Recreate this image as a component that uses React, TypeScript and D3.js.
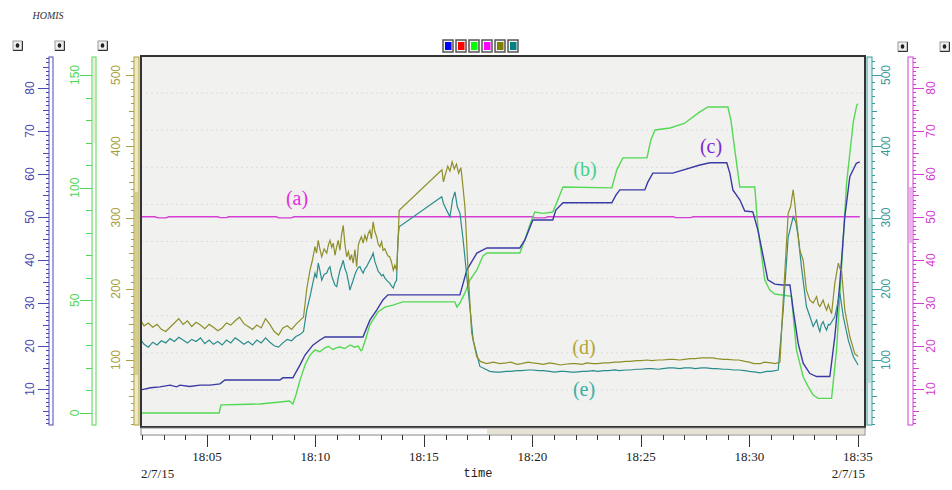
import React from 'react';
import * as d3 from 'd3';

const W = 952;
const H = 490;
const M = { left: 141, right: 865, top: 56, bottom: 427 };
const AXIS_TOP = 57;
const AXIS_BOTTOM = 425;

// time is minutes after 18:00 on 2/7/15
const T0 = 1.96;
const T1 = 35.33;

const legendColors = ['#0000ff', '#ff0000', '#00ff00', '#ff00ff', '#808000', '#008080'];

const blueLabels = [10, 20, 30, 40, 50, 60, 70, 80];
const greenLabels = [0, 50, 100, 150];
const oliveLabels = [100, 200, 300, 400, 500];
const tealLabels = [100, 200, 300, 400, 500];
const pinkLabels = [10, 20, 30, 40, 50, 60, 70, 80];

type Pt = [number, number];

// (a) magenta, right pink axis
const seriesA: Pt[] = [
  [1.96, 50.05], [2.6, 50.05], [2.75, 49.8], [3.1, 49.8], [3.25, 50.05], [5.5, 50.05], [5.6, 49.85],
  [5.9, 49.85], [6.0, 50.05], [8.2, 50.05], [8.3, 49.8], [8.9, 49.8], [9.0, 50.05], [20.0, 50.05],
  [20.1, 49.8], [20.6, 49.8], [20.7, 50.05], [26.5, 50.05], [26.6, 49.85], [27.3, 49.85], [27.4, 50.05],
  [35.09, 50.05],
];

// (b) green, left green axis
const seriesB: Pt[] = [
  [1.96, 0], [5.56, 0], [5.65, 3.6], [6.5, 3.8], [7.44, 4.0], [8.36, 4.9], [8.8, 5.3], [8.96, 4.0],
  [9.1, 8.0], [9.29, 14.6], [9.52, 21.3], [9.75, 25.7], [9.98, 28], [10.2, 27.2], [10.44, 28.9],
  [10.6, 29.6], [10.8, 28.2], [11.0, 29.0], [11.13, 29.3], [11.35, 28.6], [11.6, 30.2], [11.8, 29.2],
  [11.97, 29.7], [12.1, 27.6], [12.15, 28], [12.3, 32.4], [12.51, 39.1], [12.88, 44.8], [13.2, 47],
  [13.57, 47.9], [14.03, 49.3], [16.43, 49.3], [16.52, 47], [16.66, 48.8], [16.89, 53.3], [17.12, 59],
  [17.44, 63.5], [17.72, 69.7], [17.9, 71], [19.42, 71], [19.65, 76.8], [19.88, 83.4], [20.11, 89.2],
  [20.5, 88.6], [20.94, 89.2], [21.17, 94.5], [21.41, 100.3], [23.66, 99.9], [23.89, 107.9],
  [24.17, 113.2], [25.28, 113.2], [25.46, 121.2], [25.65, 125.6], [26.34, 126.5], [27.0, 128.5],
  [27.72, 133.6], [28.09, 135.8], [29.01, 135.8], [29.15, 130], [29.33, 116.7], [29.56, 100.3],
  [30.25, 100.3], [30.39, 82.6], [30.71, 59], [30.94, 54.6], [31.17, 52.8], [31.94, 51.8], [32.17, 28],
  [32.48, 16.1], [32.71, 11.7], [32.94, 8], [33.17, 6.5], [33.79, 6.5], [34.02, 28], [34.25, 64.8],
  [34.48, 101.9], [34.79, 129.2], [34.95, 136.6], [35.01, 137.3],
];

// (c) blue, left blue axis
const seriesC: Pt[] = [
  [1.96, 9.8], [2.4, 10.3], [2.83, 10.5], [3.3, 10.9], [3.6, 10.5], [3.76, 10.9], [4.2, 10.6],
  [4.68, 10.9], [5.14, 10.9], [5.6, 11.2], [5.83, 12.1], [8.36, 12.1], [8.5, 12.6], [8.96, 12.6],
  [9.29, 15.6], [9.52, 17.9], [9.88, 20.2], [10.21, 21.4], [10.44, 22.1], [12.19, 22.1], [12.51, 26.0],
  [12.83, 28.4], [13.11, 30.7], [13.34, 31.9], [16.66, 31.9], [16.98, 37.7], [17.44, 41.6], [17.9, 42.8],
  [19.42, 42.8], [19.65, 44.6], [20.02, 49.3], [20.94, 49.3], [21.08, 51.6], [21.41, 53.3], [23.66, 53.3],
  [23.85, 55.1], [24.03, 56.3], [25.18, 56.3], [25.32, 58.1], [25.55, 60.2], [26.47, 60.2], [27.72, 62.1],
  [28.18, 62.6], [28.96, 62.6], [29.1, 60.2], [29.24, 56.3], [29.56, 54.0], [29.79, 51.4], [30.16, 51.2],
  [30.39, 47.0], [30.58, 42.3], [30.85, 35.4], [31.17, 34.4], [31.54, 34.2], [31.87, 34.2], [32.02, 28.4],
  [32.25, 20.6], [32.48, 16.0], [32.79, 13.6], [33.1, 12.9], [33.71, 12.9], [33.94, 22.2], [34.17, 34.6],
  [34.4, 50.1], [34.63, 59.4], [34.93, 62.5], [35.09, 62.8],
];

// (d) olive, left olive axis
const seriesD: Pt[] = [
  [1.96, 155], [2.1, 148], [2.3, 152], [2.5, 146], [2.7, 150], [2.9, 143], [3.1, 140], [3.3, 146],
  [3.5, 152], [3.7, 158], [3.9, 150], [4.1, 155], [4.3, 147], [4.5, 153], [4.7, 149], [4.9, 144],
  [5.1, 150], [5.3, 146], [5.5, 141], [5.7, 145], [5.9, 152], [6.1, 149], [6.3, 155], [6.5, 160],
  [6.7, 151], [6.9, 147], [7.1, 143], [7.3, 149], [7.5, 145], [7.7, 158], [7.9, 150], [8.1, 140],
  [8.3, 135], [8.5, 145], [8.7, 148], [8.9, 143], [9.1, 150], [9.3, 156], [9.45, 160],
  [9.6, 200], [9.75, 226], [9.86, 240], [9.98, 259], [10.05, 250], [10.13, 268], [10.21, 255],
  [10.29, 245], [10.4, 256], [10.52, 250], [10.6, 262], [10.67, 268], [10.75, 258], [10.82, 264],
  [10.9, 247], [10.98, 259], [11.05, 268], [11.13, 254], [11.2, 275], [11.28, 289], [11.36, 262],
  [11.44, 245], [11.52, 252], [11.59, 240], [11.66, 248], [11.74, 236], [11.82, 255], [11.9, 231],
  [11.98, 262], [12.05, 268], [12.12, 273], [12.2, 264], [12.28, 275], [12.36, 268], [12.44, 278],
  [12.51, 282], [12.58, 270], [12.66, 294], [12.74, 280], [12.82, 273], [12.9, 262], [12.97, 259],
  [13.05, 266], [13.12, 254], [13.2, 256], [13.28, 250], [13.35, 246], [13.42, 245], [13.5, 238],
  [13.59, 226], [13.66, 233], [13.74, 226], [13.8, 260], [13.86, 310],
  [15.83, 367], [15.9, 350], [16.0, 362], [16.1, 372], [16.2, 365], [16.3, 378], [16.4, 368],
  [16.5, 375], [16.6, 362], [16.7, 370], [16.75, 358], [16.89, 315], [17.04, 222], [17.2, 138],
  [17.43, 105], [17.6, 98], [17.89, 95],
  [18.2, 97], [18.5, 95], [18.8, 96], [19.0, 97], [19.3, 94], [19.5, 95], [19.8, 97], [20.0, 96],
  [20.3, 95], [20.5, 94], [20.8, 96], [21.0, 95], [21.3, 93], [21.5, 94], [21.8, 95], [22.0, 95],
  [22.3, 94], [22.5, 96], [22.8, 95], [23.0, 95], [23.3, 96], [23.5, 96], [23.8, 97], [24.0, 97],
  [24.3, 98], [24.5, 98], [24.8, 99], [25.0, 99], [25.3, 100], [25.5, 99], [25.8, 100], [26.0, 100],
  [26.3, 101], [26.5, 101], [26.8, 100], [27.0, 101], [27.3, 102], [27.5, 102], [27.8, 103], [28.0, 103],
  [28.3, 103], [28.5, 102], [28.8, 101], [29.0, 101], [29.3, 100], [29.5, 100], [29.8, 98], [30.0, 97],
  [30.2, 95], [30.5, 95], [30.7, 97], [31.0, 96], [31.2, 95], [31.41, 97],
  [31.56, 184], [31.79, 306], [31.9, 315], [32.02, 339], [32.1, 318], [32.17, 296], [32.33, 254],
  [32.48, 240], [32.63, 198], [32.79, 184], [32.94, 180], [33.1, 189], [33.18, 178], [33.25, 175],
  [33.4, 184], [33.48, 176], [33.56, 170], [33.64, 178], [33.71, 172], [33.79, 165], [33.94, 208],
  [34.1, 236], [34.18, 228], [34.25, 226], [34.4, 170], [34.63, 133], [34.86, 109], [35.01, 105],
];

// (e) teal, right teal axis
const seriesE: Pt[] = [
  [1.96, 128], [2.1, 122], [2.3, 118], [2.5, 125], [2.7, 121], [2.9, 127], [3.1, 124], [3.3, 130],
  [3.5, 126], [3.7, 132], [3.9, 128], [4.1, 124], [4.3, 129], [4.5, 126], [4.7, 131], [4.9, 123],
  [5.1, 128], [5.3, 122], [5.5, 126], [5.7, 121], [5.9, 128], [6.1, 124], [6.3, 131], [6.5, 127],
  [6.7, 122], [6.9, 126], [7.1, 121], [7.3, 128], [7.5, 124], [7.7, 131], [7.9, 125], [8.1, 120],
  [8.3, 118], [8.5, 124], [8.7, 129], [8.9, 127], [9.1, 133], [9.3, 136], [9.45, 140],
  [9.6, 170], [9.75, 189], [9.86, 205], [9.98, 222], [10.05, 215], [10.13, 236], [10.21, 225],
  [10.29, 212], [10.4, 220], [10.52, 222], [10.6, 228], [10.67, 231], [10.75, 218], [10.82, 212],
  [10.9, 205], [10.98, 203], [11.05, 215], [11.13, 226], [11.2, 232], [11.28, 240], [11.36, 228],
  [11.44, 222], [11.52, 210], [11.59, 198], [11.66, 205], [11.74, 212], [11.82, 220], [11.9, 226],
  [11.98, 230], [12.05, 231], [12.12, 226], [12.2, 222], [12.28, 228], [12.36, 231], [12.44, 236],
  [12.51, 240], [12.58, 244], [12.66, 250], [12.74, 238], [12.82, 231], [12.9, 224], [12.97, 222],
  [13.05, 218], [13.12, 220], [13.2, 215], [13.28, 212], [13.35, 210], [13.42, 208], [13.5, 204],
  [13.59, 201], [13.66, 208], [13.74, 212], [13.8, 268], [13.86, 287],
  [15.82, 329], [15.9, 320], [16.05, 310], [16.2, 301], [16.32, 325], [16.43, 336], [16.54, 315],
  [16.66, 306], [16.81, 268], [17.04, 198], [17.27, 128], [17.58, 91], [18.04, 84],
  [18.3, 83], [18.5, 83], [18.8, 84], [19.0, 84], [19.3, 85], [19.5, 85], [19.8, 86], [20.0, 86],
  [20.3, 85], [20.5, 85], [20.8, 84], [21.0, 83], [21.3, 84], [21.5, 84], [21.8, 83], [22.0, 83],
  [22.3, 84], [22.5, 84], [22.8, 85], [23.0, 84], [23.3, 85], [23.5, 85], [23.8, 86], [24.0, 85],
  [24.3, 86], [24.5, 86], [24.8, 87], [25.0, 87], [25.3, 88], [25.5, 88], [25.8, 87], [26.0, 88],
  [26.3, 89], [26.5, 89], [26.8, 88], [27.0, 89], [27.3, 89], [27.5, 88], [27.8, 89], [28.0, 89],
  [28.3, 88], [28.5, 88], [28.8, 87], [29.0, 87], [29.3, 86], [29.5, 86], [29.8, 85], [30.0, 84],
  [30.3, 83], [30.5, 82], [30.8, 84], [31.0, 84], [31.33, 86],
  [31.56, 170], [31.79, 273], [32.02, 301], [32.14, 294], [32.25, 273], [32.4, 231], [32.63, 175],
  [32.79, 161], [32.94, 147], [33.02, 152], [33.1, 156], [33.18, 146], [33.25, 140], [33.32, 150],
  [33.4, 154], [33.48, 147], [33.56, 142], [33.64, 150], [33.71, 149], [33.94, 161], [34.17, 194],
  [34.33, 161], [34.56, 128], [34.79, 105], [35.01, 93],
];

const base = new Date(2015, 1, 7, 18, 0, 0);
const toDate = (m: number) => new Date(base.getTime() + m * 60000);

const x = d3.scaleTime().domain([toDate(T0), toDate(T1)]).range([M.left, M.right]);
const yBlue = d3.scaleLinear().domain([0, 100]).range([432, 2]);
const yGreen = d3.scaleLinear().domain([0, 150]).range([413, 75]);
const yOlive = d3.scaleLinear().domain([0, 500]).range([431.25, 75]);
const yTeal = yOlive;
const yPink = yBlue;

const isMult = (v: number, m: number) => Math.abs(v / m - Math.round(v / m)) < 1e-6;

function VAxis(p: {
  scale: d3.ScaleLinear<number, number>;
  x: number;
  side: number;
  color: string;
  step: number;
  mid: number;
  major: number;
  lens: number[];
  labels: number[];
  labelX: number;
  boxW: number;
  boxFill: string;
  thumb?: [number, number, string];
}) {
  const lo = p.scale.invert(AXIS_BOTTOM);
  const hi = p.scale.invert(AXIS_TOP);
  const vals = d3.range(Math.ceil(lo / p.step) * p.step, hi, p.step).map(v => Math.round(v * 1000) / 1000);
  const edge = p.side < 0 ? p.x : p.x + p.boxW;
  return (
    <g>
      <rect x={p.x} y={AXIS_TOP} width={p.boxW} height={AXIS_BOTTOM - AXIS_TOP} fill={p.boxFill} stroke={p.color} strokeWidth={1} />
      {p.thumb && (
        <rect x={p.x + 1} y={p.thumb[0]} width={p.boxW - 2} height={p.thumb[1] - p.thumb[0]} fill={p.thumb[2]} />
      )}
      {vals.map(v => {
        const len = isMult(v, p.major) ? p.lens[2] : isMult(v, p.mid) ? p.lens[1] : p.lens[0];
        const yy = Math.round(p.scale(v)) + 0.5;
        return <line key={v} x1={edge} x2={edge + p.side * len} y1={yy} y2={yy} stroke={p.color} strokeWidth={1} />;
      })}
      {p.labels.map(v => (
        <text
          key={v}
          transform={`translate(${p.labelX},${p.scale(v)}) rotate(-90)`}
          textAnchor="middle"
          dominantBaseline="central"
          fill={p.color}
          fontSize={12}
          fontFamily="Liberation Sans, Arial, sans-serif"
        >
          {v}
        </text>
      ))}
    </g>
  );
}

function Button({ bx, by }: { bx: number; by: number }) {
  return (
    <g>
      <rect x={bx} y={by} width={9} height={9} fill="#eeeeee" stroke="#9a9a9a" />
      <path d={`M${bx + 9.5},${by} V${by + 9.5} H${bx}`} fill="none" stroke="#333" strokeWidth={1} />
      <ellipse cx={bx + 4.5} cy={by + 4.5} rx={1.8} ry={2.3} fill="#222" />
    </g>
  );
}

export default function App() {
  const lineFor = (scale: d3.ScaleLinear<number, number>) =>
    d3.line<Pt>().x(d => x(toDate(d[0]))).y(d => scale(d[1]));

  const gridYs = d3.range(1, 10).map(k => M.top + (k * (M.bottom - M.top)) / 10);
  const minuteTicks = x.ticks(d3.timeMinute.every(1) as d3.TimeInterval);
  const fmt = d3.timeFormat('%H:%M');
  const serif = 'Liberation Serif, Times New Roman, serif';

  return (
    <svg width={W} height={H} style={{ position: 'absolute', left: 0, top: 0, background: '#fff' }}>
      <defs>
        <clipPath id="plotClip">
          <rect x={M.left} y={M.top} width={M.right - M.left} height={M.bottom - M.top} />
        </clipPath>
      </defs>

      <text x={48} y={19} textAnchor="middle" fontSize={10} fontStyle="italic" fontFamily={serif} fill="#333">
        HOMIS
      </text>

      {[[13, 41], [55, 41], [98, 41], [898, 42], [940, 42]].map(([bx, by], i) => (
        <Button key={i} bx={bx} by={by} />
      ))}

      {/* legend swatches */}
      {legendColors.map((c, i) => (
        <g key={c}>
          <rect x={443 + i * 13} y={40} width={10} height={12} fill="#f4f4f4" stroke="#555" strokeWidth={1.5} />
          <rect x={445 + i * 13} y={42} width={6.5} height={8} fill={c} />
        </g>
      ))}

      {/* plot area */}
      <rect x={M.left} y={M.top} width={M.right - M.left} height={M.bottom - M.top} fill="#f1f1ef" />
      {gridYs.map(gy => (
        <line key={gy} x1={M.left} x2={M.right} y1={gy} y2={gy} stroke="#dcdcdc" strokeDasharray="2,3" />
      ))}

      <g clipPath="url(#plotClip)" fill="none">
        <path d={lineFor(yPink)(seriesA) ?? ''} stroke="#d63cd6" strokeWidth={1.4} />
        <path d={lineFor(yGreen)(seriesB) ?? ''} stroke="#55d955" strokeWidth={1.4} />
        <path d={lineFor(yBlue)(seriesC) ?? ''} stroke="#3a3aa6" strokeWidth={1.4} />
        <path d={lineFor(yTeal)(seriesE) ?? ''} stroke="#2b8c8c" strokeWidth={1.2} />
        <path d={lineFor(yOlive)(seriesD) ?? ''} stroke="#8e8e2a" strokeWidth={1.2} />
      </g>

      <rect x={M.left} y={M.top} width={M.right - M.left} height={M.bottom - M.top} fill="none" stroke="#333" strokeWidth={2} />

      {/* annotations */}
      <text x={297} y={205} textAnchor="middle" fontSize={20} fontFamily={serif} fill="#e030e0">(a)</text>
      <text x={585} y={176} textAnchor="middle" fontSize={20} fontFamily={serif} fill="#3fd28a">(b)</text>
      <text x={711} y={153} textAnchor="middle" fontSize={20} fontFamily={serif} fill="#7a2ad0">(c)</text>
      <text x={584} y={354} textAnchor="middle" fontSize={20} fontFamily={serif} fill="#b2a636">(d)</text>
      <text x={584} y={396} textAnchor="middle" fontSize={20} fontFamily={serif} fill="#35b0a6">(e)</text>

      {/* y axes */}
      <VAxis scale={yBlue} x={49} side={-1} color="#4848b0" step={1} mid={5} major={10} lens={[3, 6, 11]}
        labels={blueLabels} labelX={30} boxW={4} boxFill="#ffffff" />
      <VAxis scale={yGreen} x={92} side={-1} color="#4fd84f" step={10} mid={50} major={50} lens={[6, 12, 12]}
        labels={greenLabels} labelX={75} boxW={4} boxFill="#ffffff" thumb={[AXIS_TOP + 1, 143, '#ecebd8']} />
      <VAxis scale={yOlive} x={134} side={-1} color="#a8a040" step={10} mid={50} major={100} lens={[3, 5, 8]}
        labels={oliveLabels} labelX={116} boxW={5} boxFill="#efe8c4" thumb={[192, 375, '#d9cd8e']} />
      <VAxis scale={yTeal} x={867} side={1} color="#3a9a9a" step={10} mid={50} major={100} lens={[3, 5, 9]}
        labels={tealLabels} labelX={886} boxW={5} boxFill="#e4f1f1" thumb={[218, 383, '#bcdcdc']} />
      <VAxis scale={yPink} x={908} side={1} color="#d040d0" step={1} mid={5} major={10} lens={[3, 6, 11]}
        labels={pinkLabels} labelX={931} boxW={5} boxFill="#ffffff" thumb={[187, 243, '#eab6ea']} />

      {/* time axis */}
      <rect x={M.left} y={428} width={M.right - M.left} height={7} fill="#fafafa" stroke="#888" />
      <rect x={487} y={429} width={M.right - 488} height={5} fill="#e6e2d4" />
      {minuteTicks.map(t => {
        const tx = Math.round(x(t)) + 0.5;
        const major = t.getMinutes() % 5 === 0;
        return <line key={+t} x1={tx} x2={tx} y1={435} y2={major ? 447 : 440} stroke="#333" />;
      })}
      {minuteTicks.filter(t => t.getMinutes() % 5 === 0).map(t => (
        <text key={+t} x={x(t)} y={461} textAnchor="middle" fontSize={13} fontFamily={serif} fill="#222">
          {fmt(t)}
        </text>
      ))}
      <text x={M.left} y={478} fontSize={13} fontFamily={serif} fill="#222">2/7/15</text>
      <text x={M.right} y={478} textAnchor="end" fontSize={13} fontFamily={serif} fill="#222">2/7/15</text>
      <text x={478} y={477} textAnchor="middle" fontSize={12} fontFamily="Liberation Mono, monospace" fill="#222">time</text>
    </svg>
  );
}
